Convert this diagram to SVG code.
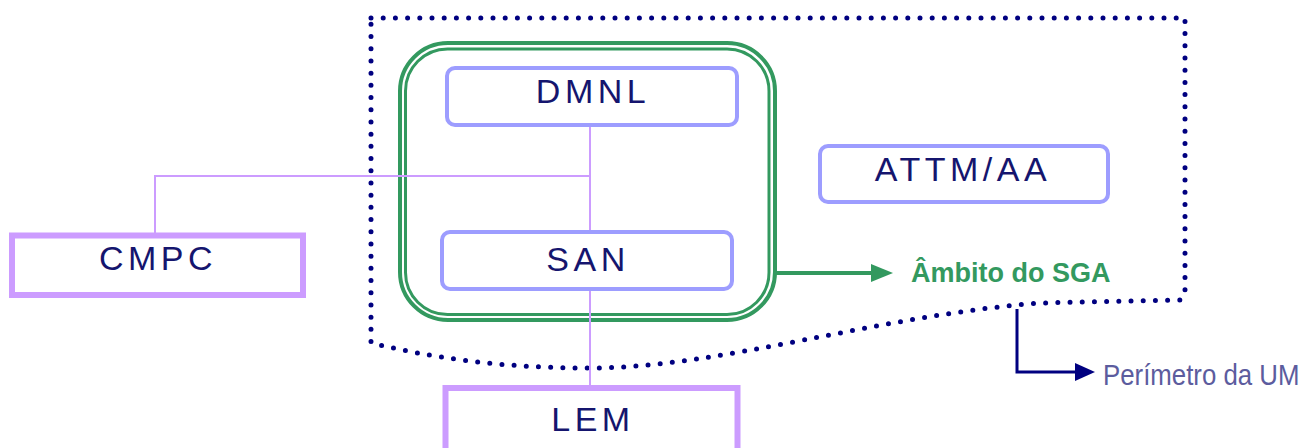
<svg xmlns="http://www.w3.org/2000/svg" width="1306" height="448" viewBox="0 0 1306 448">
  <style>
    .lbl { font-family: "Liberation Sans", Arial, sans-serif; font-size: 34px; letter-spacing: 4.5px; fill: #15156e; text-anchor: middle; }
    .soft { fill: #ffffff; stroke: #9d9dff; stroke-width: 4; }
    .hard { fill: #ffffff; stroke: #cc9cff; stroke-width: 6; }
    .link { fill: none; stroke: #cc9cff; stroke-width: 2; }
    .green { fill: none; stroke: #33995f; }
    .navy { fill: none; stroke: #000080; }
  </style>
  <rect width="1306" height="448" fill="#ffffff"/>

  <!-- unit perimeter (dotted outline with wavy bottom edge) -->
  <g id="perimeter">
    <path class="navy" stroke-width="5" stroke-linecap="round" stroke-dasharray="0 12.2"
          d="M371,18 L1185,18 L1185,294 L1180,300 L1040,303 C880,315 720,368 590,368 C520,368 450,362 371,343 Z"/>
  </g>

  <!-- management system scope (double rounded border) -->
  <g id="sga-scope">
    <rect class="green" stroke-width="4" x="400" y="43" width="375" height="277" rx="48"/>
    <rect class="green" stroke-width="3" x="405.5" y="49" width="363.5" height="265.5" rx="42"/>
  </g>

  <!-- connectors -->
  <g id="connectors">
    <path class="link" d="M590,127 L590,230 M590,291 L590,386"/>
    <path class="link" d="M590,176 L155,176 L155,233"/>
    <line class="green" stroke-width="4" x1="775" y1="273" x2="874" y2="273"/>
    <polygon fill="#33995f" points="871,264 893,273 871,282"/>
    <path class="navy" stroke-width="3" d="M1017,309 L1017,372 L1078,372"/>
    <polygon fill="#000080" points="1075,363 1095,372 1075,381"/>
  </g>

  <g id="dmnl">
    <rect class="soft" x="447" y="68" width="290" height="57" rx="8"/>
    <text class="lbl" x="593" y="103">DMNL</text>
  </g>

  <g id="san">
    <rect class="soft" x="442" y="232" width="290" height="57" rx="8"/>
    <text class="lbl" x="588" y="271">SAN</text>
  </g>

  <g id="attm-aa">
    <rect class="soft" x="820" y="146" width="288" height="56" rx="8"/>
    <text class="lbl" x="963" y="181">ATTM/AA</text>
  </g>

  <g id="cmpc">
    <rect class="hard" x="12" y="235.5" width="291" height="59.5"/>
    <text class="lbl" x="158" y="270">CMPC</text>
  </g>

  <g id="lem">
    <rect class="hard" x="445.5" y="388" width="292" height="70"/>
    <text class="lbl" x="593" y="431">LEM</text>
  </g>

  <g id="sga-label">
    <text x="911" y="282" font-family="'Liberation Sans', Arial, sans-serif" font-size="27" font-weight="bold" fill="#33995f">Âmbito do SGA</text>
  </g>

  <!-- condensed label: horizontal squeeze keeps the tall letters -->
  <g id="um-label" transform="translate(1103,385) scale(0.89,1)">
    <text x="0" y="0" font-family="'Liberation Sans', Arial, sans-serif" font-size="29" fill="#5c5c9e">Perímetro da UM</text>
  </g>
</svg>
